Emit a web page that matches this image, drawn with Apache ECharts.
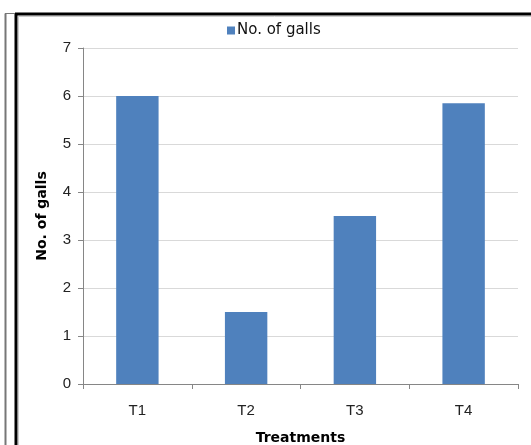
<!DOCTYPE html>
<html>
<head>
<meta charset="utf-8">
<script src="https://cdn.jsdelivr.net/npm/echarts@6/dist/echarts.min.js"></script>
<style>html,body{margin:0;padding:0;background:#fff}#c{width:531px;height:445px}</style>
</head>
<body>
<div id="c"></div>
<script>
var categories = ['T1', 'T2', 'T3', 'T4'];
var galls = [6.0, 1.5, 3.5, 5.85];
var seriesName = 'No. of galls';
var xTitle = 'Treatments';
var yTitle = 'No. of galls';

var chart = echarts.init(document.getElementById('c'));
var font = '"Liberation Sans", Arial, sans-serif';
var wide = '"DejaVu Sans", sans-serif';
chart.setOption({
  animation: false,
  textStyle: { fontFamily: font },
  graphic: [
    { type: 'line', shape: { x1: 5.5, y1: 13.5, x2: 5.5, y2: 445 }, style: { stroke: '#777', lineWidth: 2 } },
    { type: 'line', shape: { x1: 5, y1: 13.5, x2: 16, y2: 13.5 }, style: { stroke: '#777', lineWidth: 1 } },
    { type: 'line', shape: { x1: 16, y1: 14, x2: 16, y2: 445 }, style: { stroke: '#000', lineWidth: 3 } },
    { type: 'line', shape: { x1: 15, y1: 14, x2: 531, y2: 14 }, style: { stroke: '#000', lineWidth: 3 } },
    { type: 'line', shape: { x1: 18.5, y1: 16, x2: 18.5, y2: 445 }, style: { stroke: '#ccc', lineWidth: 1 } },
    { type: 'line', shape: { x1: 18, y1: 16.5, x2: 531, y2: 16.5 }, style: { stroke: '#ccc', lineWidth: 1 } }
  ],
  legend: {
    top: 18,
    left: 222,
    padding: 5,
    itemWidth: 8,
    itemHeight: 8,
    icon: 'rect',
    itemGap: 4,
    textStyle: { fontSize: 15, color: '#111', fontFamily: wide, padding: [0, 0, 0, -3] },
    data: [seriesName]
  },
  grid: { left: 83, right: 13, top: 48, bottom: 61, containLabel: false, outerBoundsMode: 'none' },
  xAxis: {
    type: 'category',
    data: categories,
    name: xTitle,
    nameLocation: 'middle',
    nameGap: 47,
    nameTextStyle: { fontSize: 14, fontWeight: 'bold', color: '#000', fontFamily: wide },
    axisLine: { lineStyle: { color: '#868686' } },
    axisTick: { show: true, length: 5, lineStyle: { color: '#868686' } },
    axisLabel: { fontSize: 15, color: '#222', margin: 19, fontFamily: font }
  },
  yAxis: {
    type: 'value',
    min: 0,
    max: 7,
    interval: 1,
    name: yTitle,
    nameLocation: 'middle',
    nameGap: 34,
    nameTextStyle: { fontSize: 14, fontWeight: 'bold', color: '#000', fontFamily: wide },
    axisLine: { show: true, lineStyle: { color: '#868686' } },
    axisTick: { show: true, length: 5, lineStyle: { color: '#868686' } },
    axisLabel: { fontSize: 15, color: '#222', margin: 12, fontFamily: font },
    splitLine: { lineStyle: { color: '#d9d9d9' } }
  },
  series: [{
    name: seriesName,
    type: 'bar',
    data: galls,
    barWidth: '39%',
    itemStyle: { color: '#4f81bd' }
  }]
});
</script>
</body>
</html>
